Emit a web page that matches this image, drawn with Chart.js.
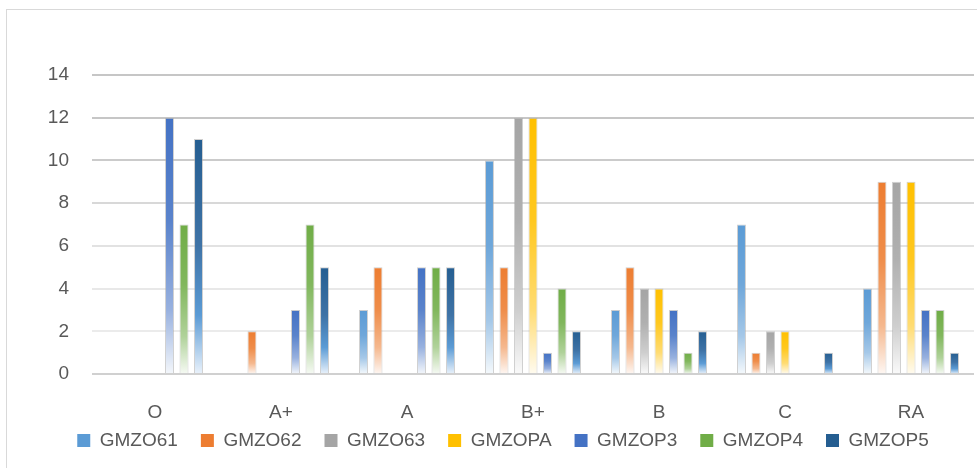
<!DOCTYPE html>
<html>
<head>
<meta charset="utf-8">
<script src="https://cdn.jsdelivr.net/npm/chart.js@4.4.1/dist/chart.umd.min.js"></script>
<style>
  html, body { margin: 0; padding: 0; width: 977px; height: 468px; overflow: hidden; background: #ffffff; }
  #frame { position: absolute; left: 6px; top: 9px; width: 1000px; height: 480px; border: 1px solid #d9d9d9; background: #fff; }
  #c { position: absolute; left: 0; top: 0; }
</style>
</head>
<body>
<div id="frame"><canvas id="c" width="992" height="458"></canvas></div>
<script>
// ---- data ----
const categories = ['O', 'A+', 'A', 'B+', 'B', 'C', 'RA'];
const seriesNames = ['GMZO61', 'GMZO62', 'GMZO63', 'GMZOPA', 'GMZOP3', 'GMZOP4', 'GMZOP5'];
const gmzo61 = [0, 0, 3, 10, 3, 7, 4];
const gmzo62 = [0, 2, 5, 5, 5, 1, 9];
const gmzo63 = [0, 0, 0, 12, 4, 2, 9];
const gmzopa = [0, 0, 0, 12, 4, 2, 9];
const gmzop3 = [12, 3, 5, 1, 3, 0, 3];
const gmzop4 = [7, 7, 5, 4, 1, 0, 3];
const gmzop5 = [11, 5, 5, 2, 2, 1, 1];
const yTickValues = [0, 2, 4, 6, 8, 10, 12, 14];

// ---- styles ----
const baseColors = ['#5B9BD5', '#ED7D31', '#A5A5A5', '#FFC000', '#4472C4', '#70AD47', '#255E91'];
function mixWhite(hex, t) {
  const n = parseInt(hex.slice(1), 16);
  const r = (n >> 16) & 255, g = (n >> 8) & 255, b = n & 255;
  const m = v => Math.round(v + (255 - v) * t);
  return `rgb(${m(r)},${m(g)},${m(b)})`;
}
function stopsFor(c, i) {
  if (i === 6) return [[0, '#255E91'], [0.45, '#3f73a6'], [0.75, '#5b9bd5'], [1, '#eaf2fb']];
  return [[0, c], [0.4, mixWhite(c, 0.12)], [0.75, mixWhite(c, 0.45)], [1, mixWhite(c, 0.94)]];
}
function barFill(stops) {
  return function (ctx) {
    const chart = ctx.chart;
    const y = chart.scales && chart.scales.y;
    if (!y || ctx.type !== 'data' || !ctx.raw) return stops[0][1];
    const top = y.getPixelForValue(ctx.raw);
    const bot = y.getPixelForValue(0);
    if (!isFinite(top) || !isFinite(bot) || bot - top < 1) return stops[0][1];
    const g = chart.ctx.createLinearGradient(0, top, 0, bot);
    stops.forEach(([o, c]) => g.addColorStop(o, c));
    return g;
  };
}
const gridColors = { 0: '#d0d0d0', 2: '#ebebeb', 4: '#e8e8e8', 6: '#e2e2e2', 8: '#d8d8d8', 10: '#cbcbcb', 12: '#c6c6c6', 14: '#c6c6c6' };
const textColor = '#595959';
const fontFamily = '"Liberation Sans", Arial, sans-serif';

const allSeries = [gmzo61, gmzo62, gmzo63, gmzopa, gmzop3, gmzop4, gmzop5];
const datasets = allSeries.map((vals, i) => ({
  label: seriesNames[i],
  data: vals,
  backgroundColor: barFill(stopsFor(baseColors[i], i)),
  borderColor: 'rgba(170,170,170,0.55)',
  borderWidth: { top: 1, left: 1, right: 1, bottom: 0 },
  borderSkipped: 'start',
  categoryPercentage: 0.806,
  barPercentage: 0.62
}));

// let the x-axis labels extend below the (short) axis box instead of being clipped
const xLabelRoom = {
  id: 'xLabelRoom',
  afterLayout(chart) {
    const s = chart.scales.x;
    s.bottom = s.top + 70;
  }
};

new Chart(document.getElementById('c'), {
  type: 'bar',
  data: { labels: categories, datasets },
  plugins: [xLabelRoom],
  options: {
    responsive: false,
    animation: false,
    devicePixelRatio: 1,
    layout: { padding: { left: 25, right: 25, top: 65, bottom: 8 } },
    plugins: {
      tooltip: { enabled: false },
      legend: {
        position: 'bottom',
        align: 'center',
        labels: {
          color: textColor,
          font: { family: fontFamily, size: 19 },
          boxWidth: 13,
          boxHeight: 13,
          padding: 23,
          generateLabels: (chart) => chart.data.datasets.map((ds, i) => ({
            text: ds.label,
            fillStyle: baseColors[i],
            strokeStyle: baseColors[i],
            lineWidth: 0,
            hidden: false,
            datasetIndex: i,
            fontColor: textColor
          }))
        }
      }
    },
    scales: {
      x: {
        grid: { display: false, drawTicks: false },
        border: { display: false },
        ticks: { color: textColor, font: { family: fontFamily, size: 19 }, padding: 27, maxRotation: 0 },
        afterFit: (s) => { s.height = 34; }
      },
      y: {
        min: 0,
        max: 14,
        afterBuildTicks: (s) => { s.ticks = yTickValues.map(v => ({ value: v })); },
        grid: {
          drawTicks: false,
          lineWidth: 2,
          color: (ctx) => gridColors[ctx.tick ? ctx.tick.value : 0] || '#d9d9d9'
        },
        border: { display: false },
        ticks: { color: textColor, font: { family: fontFamily, size: 19 }, padding: 23 },
        afterFit: (s) => { s.width = 60; }
      }
    }
  }
});
</script>
</body>
</html>
